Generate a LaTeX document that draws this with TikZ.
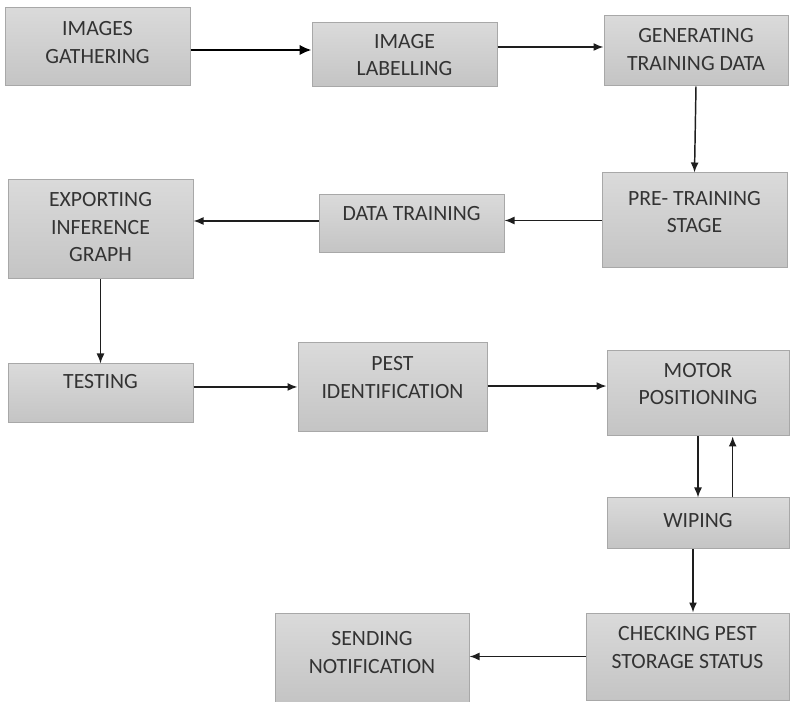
\documentclass[tikz,border=0pt]{standalone}
\usepackage{fontspec}
\setmainfont{Carlito}
\usepackage{tikz}
\usetikzlibrary{arrows.meta}
\definecolor{boxtop}{HTML}{DADADA}
\definecolor{boxbottom}{HTML}{C4C4C4}
\definecolor{boxline}{HTML}{A8A8A8}
\definecolor{txtgray}{HTML}{333333}
\definecolor{flowline}{HTML}{1E1E1E}

\begin{document}
\begin{tikzpicture}[x=0.75pt, y=-0.75pt,
                    stage/.style={draw=boxline, line width=0.75pt, top color=boxtop, bottom color=boxbottom,
                                  text=txtgray, align=center, inner sep=0pt,
                                  font=\fontsize{16.3pt}{20.6pt}\selectfont},
                    boxsize/.style 2 args={minimum width=#1*0.75pt, minimum height=#2*0.75pt},
                    liftby/.style={text depth=#1*1.5pt},
                    flow/.style={-{Latex[length=7.5pt,width=6pt]}, line width=1.1pt, draw=flowline},
                    boldflow/.style={-{Latex[length=9pt,width=8pt]}, line width=2.2pt, draw=black}]

    \useasboundingbox (0,0) rectangle (790,702);

    % top row
    \node[stage, boxsize={185}{78}, liftby=4.5] (gather) at (97.5,47) {IMAGES\\GATHERING};
    \node[stage, boxsize={185}{64}] (label) at (404.5,55) {IMAGE\\LABELLING};
    \node[stage, boxsize={184}{70}, liftby=1.5] (gendata) at (696,51) {GENERATING\\TRAINING DATA};
    % second row
    \node[stage, boxsize={185}{95}, liftby=8.5] (pretrain) at (694.5,220.5) {PRE- TRAINING\\STAGE};
    \node[stage, boxsize={185}{58}, liftby=10.5] (train) at (411.5,224) {DATA TRAINING};
    \node[stage, boxsize={185}{99}, liftby=2.5] (export) at (100.5,229.5) {EXPORTING\\INFERENCE\\GRAPH};
    % third row
    \node[stage, boxsize={185}{59}, liftby=12] (test) at (100.5,393.5) {TESTING};
    \node[stage, boxsize={189}{89}, liftby=10] (pest) at (392.5,387.5) {PEST\\IDENTIFICATION};
    \node[stage, boxsize={182}{85}, liftby=9.5] (motor) at (698,393.5) {MOTOR\\POSITIONING};
    % wiping and storage
    \node[stage, boxsize={182}{51}, liftby=3] (wipe) at (698,523.5) {WIPING};
    \node[stage, boxsize={203}{87}, liftby=9] (check) at (687.5,656.5) {CHECKING PEST\\STORAGE STATUS};
    \node[stage, boxsize={194}{89}, liftby=5] (notify) at (372,657.5) {SENDING\\NOTIFICATION};

    % training pipeline
    \draw[boldflow] ([yshift=-2.25pt]gather.east) -- ([yshift=-2.25pt]gather.east -| label.west);
    \draw[flow] ([yshift=6pt]label.east) -- ([yshift=6pt]label.east -| gendata.west);
    \draw[flow] (gendata.south) -- (pretrain.north);
    \draw[flow] (pretrain.west) -- (pretrain.west -| train.east);
    \draw[flow] ([yshift=2.25pt]train.west) -- ([yshift=2.25pt]train.west -| export.east);
    \draw[flow] (export.south) -- (test.north);

    % detection and wiping
    \draw[flow] ([yshift=4.9pt]test.east) -- ([yshift=4.9pt]test.east -| pest.west);
    \draw[flow] ([yshift=1.1pt]pest.east) -- ([yshift=1.1pt]pest.east -| motor.west);
    \draw[flow] (motor.south) -- (wipe.north);
    \draw[flow] ([xshift=26pt]wipe.north) -- ([xshift=26pt]motor.south);
    \draw[flow] ([xshift=-3.75pt]wipe.south) -- ([xshift=-3.75pt]wipe.south |- check.north);
    \draw[flow] (check.west) -- (check.west -| notify.east);
\end{tikzpicture}
\end{document}
